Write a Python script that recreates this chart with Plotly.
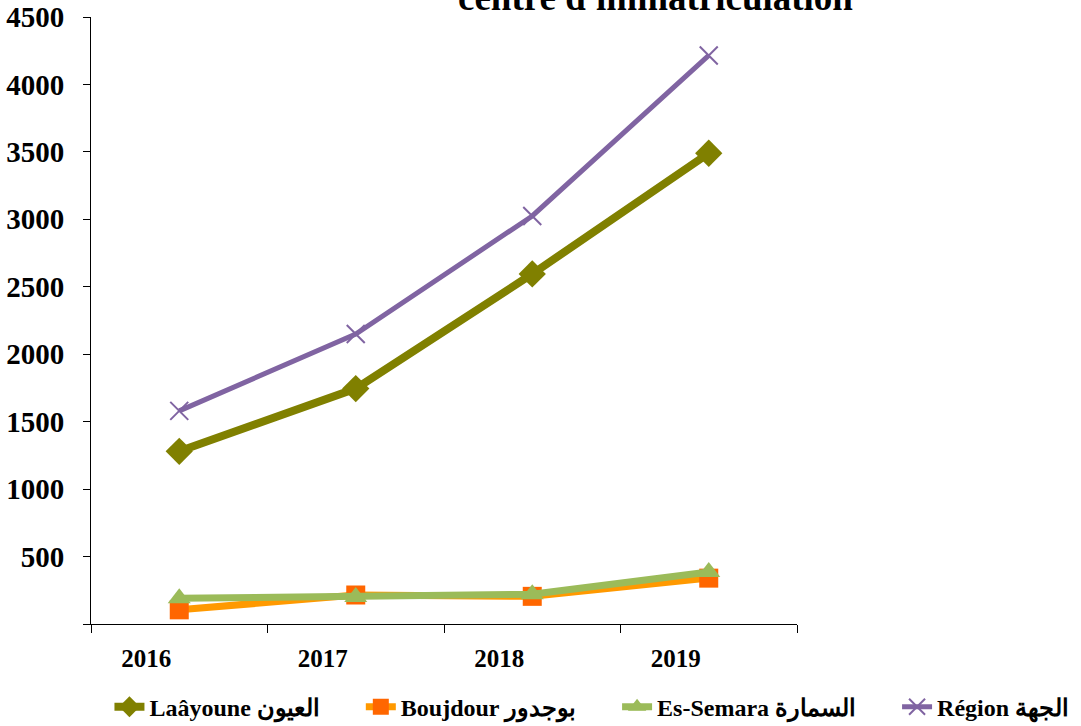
import plotly.graph_objects as go

years = ["2016", "2017", "2018", "2019"]
laayoune = [1280, 1745, 2595, 3490]
boujdour = [105, 215, 205, 340]
semara = [190, 200, 220, 385]
region = [1580, 2150, 3025, 4215]

names = ["Laâyoune العيون", "Boujdour بوجدور", "Es-Semara السمارة", "Région الجهة"]
title_text = "centre d'immatriculation"

font_family = "Liberation Serif, Times New Roman, serif"
pad = "\u00a0" * 6

fig = go.Figure()
fig.add_trace(go.Scatter(
    x=years, y=laayoune, name=names[0] + pad, mode="lines+markers",
    line=dict(color="#808000", width=8),
    marker=dict(symbol="diamond", size=21, color="#808000"),
))
fig.add_trace(go.Scatter(
    x=years, y=boujdour, name=names[1] + pad, mode="lines+markers",
    line=dict(color="#FF9900", width=7),
    marker=dict(symbol="square", size=19, color="#FF6600"),
))
fig.add_trace(go.Scatter(
    x=years, y=semara, name=names[2] + pad, mode="lines+markers",
    line=dict(color="#9BBB59", width=7),
    marker=dict(symbol="triangle-up", size=20, color="#9BBB59"),
))
fig.add_trace(go.Scatter(
    x=years, y=region, name=names[3], mode="lines+markers",
    line=dict(color="#8064A2", width=5),
    marker=dict(symbol="x-thin", size=18, color="#8064A2",
                line=dict(color="#8064A2", width=2)),
))

ytick_vals = [0, 500, 1000, 1500, 2000, 2500, 3000, 3500, 4000, 4500]
ytick_text = ["" if v == 0 else str(v) for v in ytick_vals]

fig.update_layout(
    width=1081, height=726,
    margin=dict(l=91, r=284, t=17, b=102, autoexpand=False),
    paper_bgcolor="white", plot_bgcolor="white",
    font=dict(family=font_family, color="black", size=20),
    showlegend=True,
    legend=dict(
        orientation="h", x=1.393, xanchor="right", y=-0.137, yanchor="middle",
        font=dict(family=font_family, size=24, color="black", weight="bold"),
        tracegroupgap=0, borderwidth=0,
    ),
    xaxis=dict(
        type="category", tickson="boundaries", ticks="outside", ticklen=8,
        tickcolor="black", showline=True, linecolor="black", linewidth=1,
        showgrid=False, zeroline=False, range=[-0.5, 3.5], automargin=False,
        tickfont=dict(family=font_family, size=25, color="black", weight="bold"),
        ticklabelshift=-33, ticklabelstandoff=12,
    ),
    yaxis=dict(
        range=[0, 4500], tickvals=ytick_vals, ticktext=ytick_text,
        ticks="outside", ticklen=7, tickcolor="black", automargin=False,
        showline=True, linecolor="black", linewidth=1,
        showgrid=False, zeroline=False,
        tickfont=dict(family=font_family, size=29, color="black", weight="bold"),
        ticklabelstandoff=13,
    ),
)

fig.add_annotation(
    text=title_text,
    xref="paper", yref="paper", x=0.8, y=1.0, xanchor="center", yanchor="bottom",
    yshift=-3, showarrow=False,
    font=dict(family=font_family, size=37, color="black", weight="bold"),
)

fig.write_html("out.html", config={"displayModeBar": False},
               post_script="document.body.style.margin='0';")
